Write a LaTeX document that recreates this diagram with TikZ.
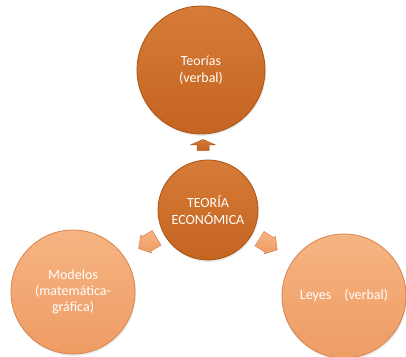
\documentclass[tikz,border=0pt]{standalone}
\usepackage{fontspec}
\setmainfont{Carlito}
\usetikzlibrary{shadows}
\definecolor{darkor}{RGB}{196,100,32}
\definecolor{darkortop}{RGB}{214,124,56}
\definecolor{darkorline}{RGB}{170,84,22}
\definecolor{lightor}{RGB}{238,156,100}
\definecolor{lightortop}{RGB}{246,180,130}
\definecolor{lightorline}{RGB}{214,132,80}
\begin{document}
\begin{tikzpicture}[x=1pt,y=1pt,
  bigdark/.style={circle,draw=darkorline,line width=0.8pt,top color=darkortop,bottom color=darkor,
    text=white,align=center,inner sep=0pt,font=\fontsize{14}{17}\selectfont,
    drop shadow={opacity=0.15,shadow xshift=1pt,shadow yshift=-2pt}},
  bigligh/.style={circle,draw=lightorline,line width=0.8pt,top color=lightortop,bottom color=lightor,
    text=white,align=center,inner sep=0pt,font=\fontsize{14}{16}\selectfont,
    drop shadow={opacity=0.15,shadow xshift=1pt,shadow yshift=-2pt}},
  arrdark/.style={draw=darkorline,line width=0.5pt,top color=darkortop,bottom color=darkor},
  arrligh/.style={draw=lightorline,line width=0.5pt,top color=lightortop,bottom color=lightor}
]
\useasboundingbox (0,0) rectangle (406,356);
\node[bigdark,minimum size=128pt] (top) at (201,286) {Teorías\\(verbal)};
\node[bigdark,minimum size=100pt] (ctr) at (208,146) {TEORÍA\\ECONÓMICA};
\node[bigligh,minimum size=124pt] (lft) at (73,64) {Modelos\\(matemática-\\gráfica)};
\node[bigligh,minimum size=124pt] (rgt) at (344,60) {Leyes\hspace{13pt}(verbal)};
\coordinate (atop) at (203,211);
\coordinate (alft) at (148,113);
\coordinate (argt) at (268,112);
\begin{scope}[shift={(atop)},rotate=90]
  \path[arrdark] (-5.5,-6) -- (0,-6) -- (0,-12.5) -- (5.5,0) -- (0,12.5) -- (0,6) -- (-5.5,6) -- cycle;
\end{scope}
\begin{scope}[shift={(alft)},rotate=211]
  \path[arrligh] (-10,-8.5) -- (2,-8.5) -- (2,-10.5) -- (11,0) -- (2,10.5) -- (2,8.5) -- (-10,8.5) -- cycle;
\end{scope}
\begin{scope}[shift={(argt)},rotate=-32]
  \path[arrligh] (-10,-8.5) -- (2,-8.5) -- (2,-10.5) -- (11,0) -- (2,10.5) -- (2,8.5) -- (-10,8.5) -- cycle;
\end{scope}
\end{tikzpicture}
\end{document}
